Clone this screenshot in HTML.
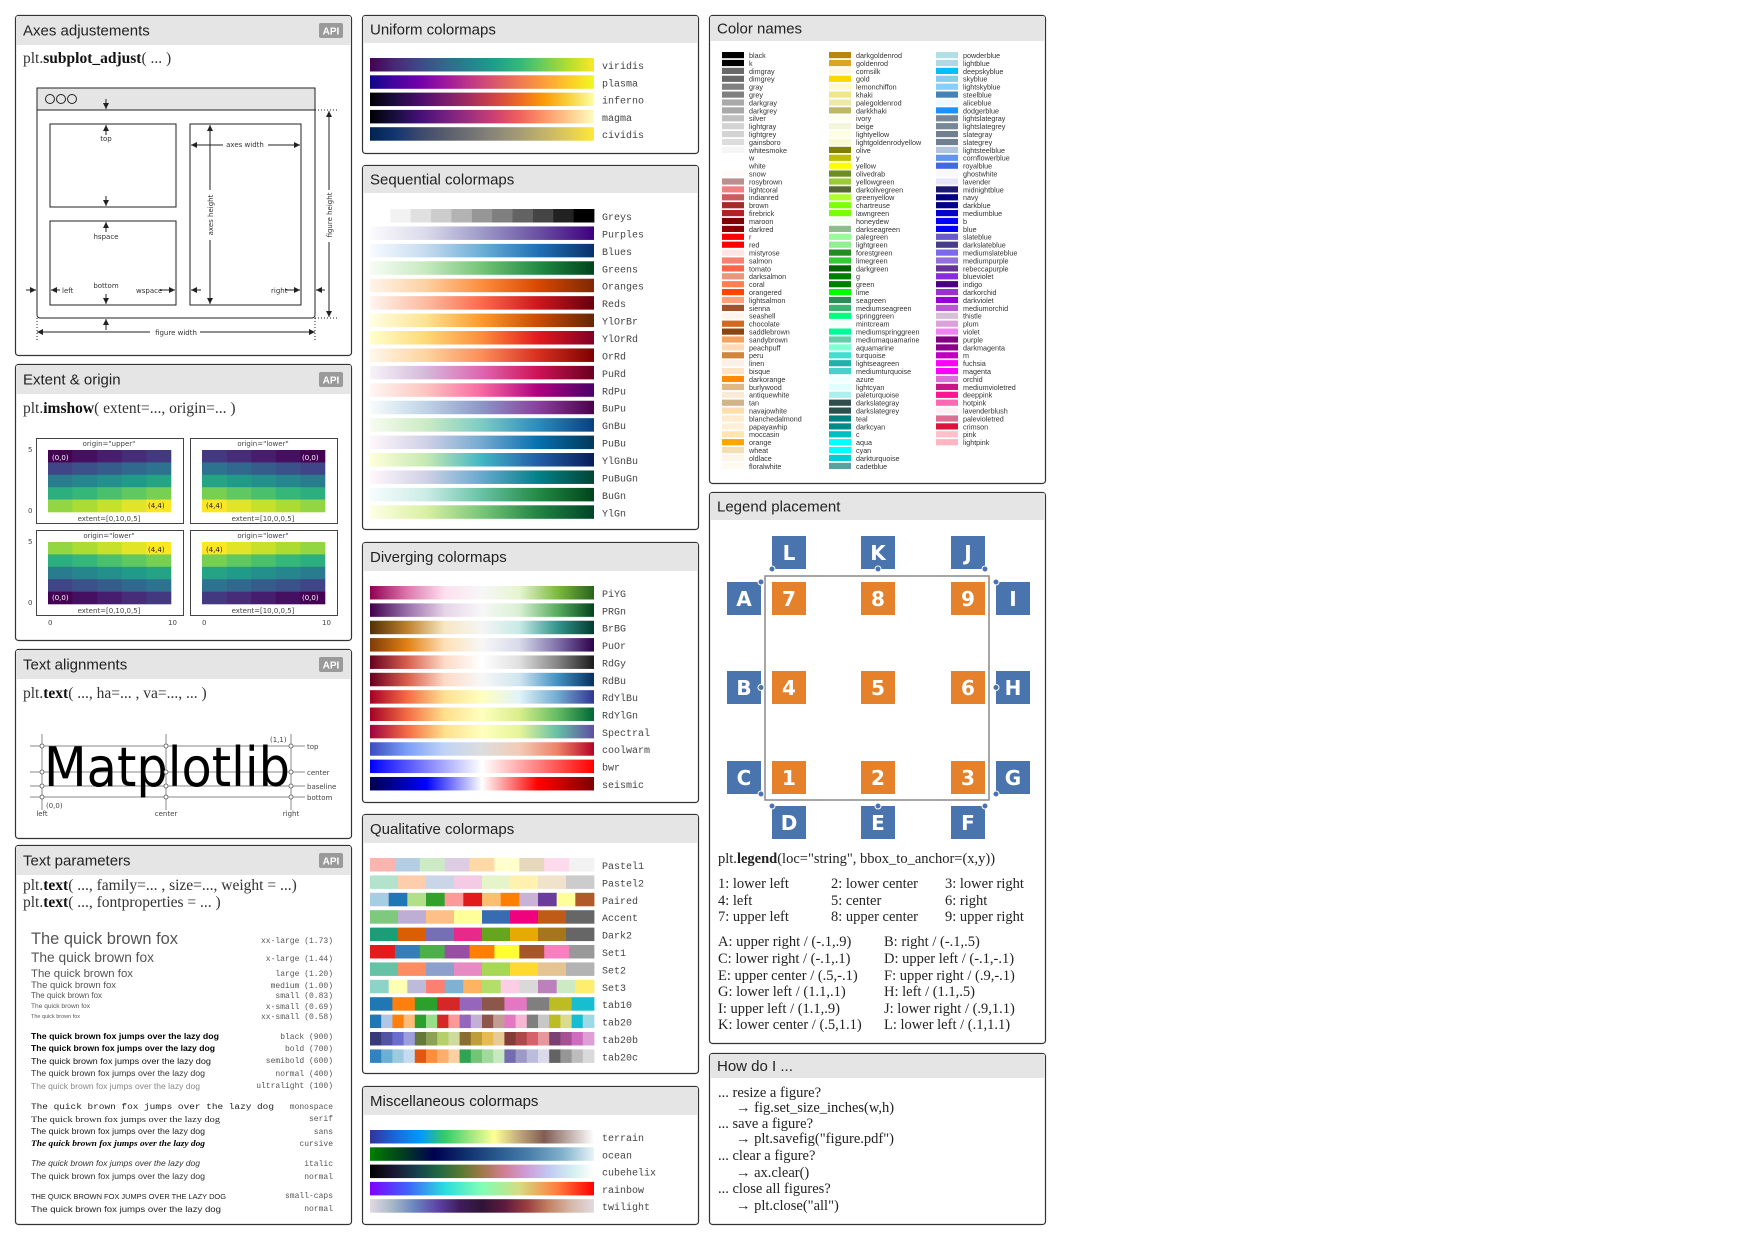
<!DOCTYPE html>
<html><head><meta charset="utf-8"><style>
html,body{margin:0;padding:0;background:#fff;}
svg{display:block;}
.hd{font-family:"Liberation Sans",sans-serif;font-size:15px;fill:#222;}
.code{font-family:"Liberation Serif",serif;font-size:15.5px;fill:#333;}
.mono{font-family:"Liberation Mono",monospace;font-size:10px;fill:#444;}
.sm{font-family:"DejaVu Sans","Liberation Sans",sans-serif;font-size:7px;fill:#444;}
.lg{font-family:"Liberation Serif",serif;font-size:14.5px;fill:#222;}
.sq{font-family:"DejaVu Sans","Liberation Sans",sans-serif;font-size:20px;font-weight:bold;fill:#fff;}
</style></head><body>
<svg id="root" width="1753" height="1240" viewBox="0 0 1753 1240" xmlns="http://www.w3.org/2000/svg">
<defs id="defs">
<marker id="ar" viewBox="0 0 6 6" refX="6" refY="3" markerWidth="6" markerHeight="6" orient="auto-start-reverse"><path d="M0,0 L6,3 L0,6 Z" fill="#222"/></marker>
</defs>
<g id="panels"></g>
<!-- Axes adjustments diagram -->
<g stroke="#222" fill="none" stroke-width="1">
  <rect x="37" y="88" width="278" height="230" rx="3" fill="#fff"/>
  <rect x="37" y="88" width="278" height="22" fill="#e5e5e5"/>
  <line x1="37" y1="110" x2="315" y2="110"/>
  <circle cx="50" cy="99" r="4.5"/><circle cx="61" cy="99" r="4.5"/><circle cx="72" cy="99" r="4.5"/>
  <rect x="50" y="124" width="126" height="83"/>
  <rect x="50" y="221" width="126" height="84"/>
  <rect x="190" y="124" width="111" height="181"/>
  <line x1="106" y1="99" x2="106" y2="109" marker-end="url(#ar)"/><line x1="106" y1="135" x2="106" y2="125" marker-end="url(#ar)"/>
  <line x1="106" y1="196" x2="106" y2="206" marker-end="url(#ar)"/><line x1="106" y1="232" x2="106" y2="222" marker-end="url(#ar)"/>
  <line x1="106" y1="294" x2="106" y2="304" marker-end="url(#ar)"/><line x1="106" y1="330" x2="106" y2="319" marker-end="url(#ar)"/>
  <line x1="210" y1="125" x2="210" y2="304" marker-start="url(#ar)" marker-end="url(#ar)"/>
  <line x1="191" y1="145" x2="300" y2="145" marker-start="url(#ar)" marker-end="url(#ar)"/>
  <line x1="329" y1="111" x2="329" y2="317" marker-start="url(#ar)" marker-end="url(#ar)"/>
  <line x1="37" y1="332" x2="315" y2="332" marker-start="url(#ar)" marker-end="url(#ar)"/>
  <line x1="26" y1="290" x2="36" y2="290" marker-end="url(#ar)"/><line x1="60" y1="290" x2="51" y2="290" marker-end="url(#ar)"/>
  <line x1="160" y1="290" x2="175" y2="290" marker-end="url(#ar)"/><line x1="201" y1="290" x2="191" y2="290" marker-end="url(#ar)"/>
  <line x1="285" y1="290" x2="300" y2="290" marker-end="url(#ar)"/><line x1="325" y1="290" x2="316" y2="290" marker-end="url(#ar)"/>
  <line x1="315" y1="110" x2="338" y2="110" stroke-dasharray="1,2"/><line x1="315" y1="318" x2="338" y2="318" stroke-dasharray="1,2"/>
  <line x1="37" y1="318" x2="37" y2="340" stroke-dasharray="1,2"/><line x1="315" y1="318" x2="315" y2="340" stroke-dasharray="1,2"/>
</g>
<g font-family="DejaVu Sans, Liberation Sans, sans-serif" font-size="7" fill="#333">
  <text x="106" y="141" text-anchor="middle">top</text>
  <text x="106" y="239" text-anchor="middle">hspace</text>
  <text x="62" y="293">left</text><text x="106" y="288" text-anchor="middle">bottom</text>
  <text x="136" y="293">wspace</text><text x="271" y="293">right</text>
  <rect x="223" y="140" width="45" height="10" fill="#fff"/><text x="245" y="147" text-anchor="middle">axes width</text>
  <rect x="150" y="328" width="50" height="10" fill="#fff"/><text x="176" y="335" text-anchor="middle">figure width</text>
  <rect x="205" y="190" width="10" height="50" fill="#fff"/><text transform="translate(213,215) rotate(-90)" text-anchor="middle">axes height</text>
  <rect x="324" y="190" width="10" height="52" fill="#fff"/><text transform="translate(332,215) rotate(-90)" text-anchor="middle">figure height</text>
</g>
<!-- Text alignments -->
<g>
  <g stroke="#888" stroke-width="1">
    <line x1="30" y1="746" x2="305" y2="746"/><line x1="30" y1="772" x2="305" y2="772"/>
    <line x1="30" y1="786" x2="305" y2="786"/><line x1="30" y1="797" x2="305" y2="797"/>
    <line x1="42" y1="734" x2="42" y2="810"/><line x1="166" y1="734" x2="166" y2="810"/><line x1="291" y1="734" x2="291" y2="810"/>
  </g>
  <text x="44" y="786" font-family="DejaVu Sans, Liberation Sans, sans-serif" font-size="54" textLength="246" lengthAdjust="spacingAndGlyphs" fill="#000">Matplotlib</text>
  <g class="sm"><text x="307" y="749" class="sm">top</text><text x="307" y="775" class="sm">center</text><text x="307" y="789" class="sm">baseline</text><text x="307" y="800" class="sm">bottom</text>
  <text x="270" y="742" class="sm">(1,1)</text><text x="46" y="808" class="sm">(0,0)</text>
  <text x="42" y="816" text-anchor="middle" class="sm">left</text><text x="166" y="816" text-anchor="middle" class="sm">center</text><text x="291" y="816" text-anchor="middle" class="sm">right</text></g>
  <g fill="#fff" stroke="#555" stroke-width="0.8">
    <circle cx="42" cy="746" r="2"/><circle cx="166" cy="746" r="2"/><circle cx="291" cy="746" r="2"/>
    <circle cx="42" cy="772" r="2"/><circle cx="166" cy="772" r="2"/><circle cx="291" cy="772" r="2"/>
    <circle cx="42" cy="786" r="2"/><circle cx="166" cy="786" r="2"/><circle cx="291" cy="786" r="2"/>
    <circle cx="42" cy="797" r="2"/><circle cx="166" cy="797" r="2"/><circle cx="291" cy="797" r="2"/>
  </g>
</g>
<!-- Text params -->
<g font-family="Liberation Sans, sans-serif">
  <g fill="#555">
    <text x="31" y="944" font-size="16.5" textLength="147" lengthAdjust="spacingAndGlyphs">The quick brown fox</text>
    <text x="31" y="962" font-size="13.7" textLength="123" lengthAdjust="spacingAndGlyphs">The quick brown fox</text>
    <text x="31" y="977" font-size="11.4" textLength="102" lengthAdjust="spacingAndGlyphs">The quick brown fox</text>
    <text x="31" y="988" font-size="9.5" textLength="85" lengthAdjust="spacingAndGlyphs">The quick brown fox</text>
    <text x="31" y="998" font-size="7.9" textLength="71" lengthAdjust="spacingAndGlyphs">The quick brown fox</text>
    <text x="31" y="1008" font-size="6.6" textLength="59" lengthAdjust="spacingAndGlyphs">The quick brown fox</text>
    <text x="31" y="1018" font-size="5.5" textLength="49" lengthAdjust="spacingAndGlyphs">The quick brown fox</text>
  </g>
  <g font-size="8.6">
    <text x="31" y="1039" font-weight="900" fill="#000" textLength="188" lengthAdjust="spacingAndGlyphs">The quick brown fox jumps over the lazy dog</text>
    <text x="31" y="1051" font-weight="bold" fill="#000" textLength="184" lengthAdjust="spacingAndGlyphs">The quick brown fox jumps over the lazy dog</text>
    <text x="31" y="1064" fill="#111" textLength="180" lengthAdjust="spacingAndGlyphs">The quick brown fox jumps over the lazy dog</text>
    <text x="31" y="1076" fill="#333" textLength="174" lengthAdjust="spacingAndGlyphs">The quick brown fox jumps over the lazy dog</text>
    <text x="31" y="1089" fill="#888" textLength="169" lengthAdjust="spacingAndGlyphs">The quick brown fox jumps over the lazy dog</text>
    <text x="31" y="1109" font-family="Liberation Mono, monospace" fill="#222" textLength="243" lengthAdjust="spacingAndGlyphs">The quick brown fox jumps over the lazy dog</text>
    <text x="31" y="1122" font-family="Liberation Serif, serif" fill="#222" textLength="189" lengthAdjust="spacingAndGlyphs">The quick brown fox jumps over the lazy dog</text>
    <text x="31" y="1134" fill="#222" textLength="174" lengthAdjust="spacingAndGlyphs">The quick brown fox jumps over the lazy dog</text>
    <text x="31" y="1146" font-family="Liberation Serif, serif" font-style="italic" font-weight="bold" fill="#000" textLength="174" lengthAdjust="spacingAndGlyphs">The quick brown fox jumps over the lazy dog</text>
    <text x="31" y="1166" font-style="italic" fill="#333" textLength="169" lengthAdjust="spacingAndGlyphs">The quick brown fox jumps over the lazy dog</text>
    <text x="31" y="1179" fill="#333" textLength="174" lengthAdjust="spacingAndGlyphs">The quick brown fox jumps over the lazy dog</text>
    <text x="31" y="1199" font-size="7" fill="#222" textLength="195" lengthAdjust="spacingAndGlyphs">THE QUICK BROWN FOX JUMPS OVER THE LAZY DOG</text>
    <text x="31" y="1212" fill="#222" textLength="190" lengthAdjust="spacingAndGlyphs">The quick brown fox jumps over the lazy dog</text>
  </g>
  <g font-family="Liberation Mono, monospace" font-size="8" fill="#555" text-anchor="end">
    <text x="333" y="943">xx-large (1.73)</text><text x="333" y="961">x-large (1.44)</text>
    <text x="333" y="976">large (1.20)</text><text x="333" y="988">medium (1.00)</text>
    <text x="333" y="998">small (0.83)</text><text x="333" y="1009">x-small (0.69)</text>
    <text x="333" y="1019">xx-small (0.58)</text>
    <text x="333" y="1039">black (900)</text><text x="333" y="1051">bold (700)</text>
    <text x="333" y="1063">semibold (600)</text><text x="333" y="1076">normal (400)</text>
    <text x="333" y="1088">ultralight (100)</text>
    <text x="333" y="1109">monospace</text><text x="333" y="1121">serif</text>
    <text x="333" y="1134">sans</text><text x="333" y="1146">cursive</text>
    <text x="333" y="1166">italic</text><text x="333" y="1179">normal</text>
    <text x="333" y="1198">small-caps</text><text x="333" y="1211">normal</text>
  </g>
</g>
<!-- How do I -->
<g class="lg">
  <text x="718" y="1097" class="lg">... resize a figure?</text>
  <text x="736" y="1112" class="lg" fill="#444">→ fig.set_size_inches(w,h)</text>
  <text x="718" y="1128" class="lg">... save a figure?</text>
  <text x="736" y="1143" class="lg" fill="#444">→ plt.savefig("figure.pdf")</text>
  <text x="718" y="1160" class="lg">... clear a figure?</text>
  <text x="736" y="1177" class="lg" fill="#444">→ ax.clear()</text>
  <text x="718" y="1193" class="lg">... close all figures?</text>
  <text x="736" y="1210" class="lg" fill="#444">→ plt.close("all")</text>
</g>
<!-- Legend text -->
<g>
  <text x="718" y="863" class="lg">plt.<tspan font-weight="bold">legend</tspan>(loc="string", bbox_to_anchor=(x,y))</text>
  <text x="718" y="888" class="lg">1: lower left</text><text x="831" y="888" class="lg">2: lower center</text><text x="945" y="888" class="lg">3: lower right</text>
  <text x="718" y="905" class="lg">4: left</text><text x="831" y="905" class="lg">5: center</text><text x="945" y="905" class="lg">6: right</text>
  <text x="718" y="921" class="lg">7: upper left</text><text x="831" y="921" class="lg">8: upper center</text><text x="945" y="921" class="lg">9: upper right</text>
  <text x="718" y="946" class="lg">A: upper right / (-.1,.9)</text><text x="884" y="946" class="lg">B: right / (-.1,.5)</text>
  <text x="718" y="963" class="lg">C: lower right / (-.1,.1)</text><text x="884" y="963" class="lg">D: upper left / (-.1,-.1)</text>
  <text x="718" y="980" class="lg">E: upper center / (.5,-.1)</text><text x="884" y="980" class="lg">F: upper right / (.9,-.1)</text>
  <text x="718" y="996" class="lg">G: lower left / (1.1,.1)</text><text x="884" y="996" class="lg">H: left / (1.1,.5)</text>
  <text x="718" y="1013" class="lg">I: upper left / (1.1,.9)</text><text x="884" y="1013" class="lg">J: lower right / (.9,1.1)</text>
  <text x="718" y="1029" class="lg">K: lower center / (.5,1.1)</text><text x="884" y="1029" class="lg">L: lower left / (.1,1.1)</text>
</g>
<rect x="765" y="576" width="224" height="224" fill="none" stroke="#888" stroke-width="1.5"/>
<g id="dyn"></g>
</svg>
<script>
// ---------- data ----------
const panelTitles = ["Axes adjustements","Extent & origin","Text alignments","Text parameters","Uniform colormaps","Sequential colormaps","Diverging colormaps","Qualitative colormaps","Miscellaneous colormaps","Color names","Legend placement","How do I ..."];
const panelBoxes = [[15,15,336,340,30],[15,364,336,276,30],[15,649,336,189,30],[15,845,336,379,30],[362,15,336,138,28],[362,165,336,364,28],[362,542,336,260,29],[362,814,336,259,29],[362,1086,336,138,29],[709,15,336,468,26],[709,492,336,551,28],[709,1053,336,171,25]];
const panelApi = [true,true,true,true,false,false,false,false,false,false,false,false];
const panelCode = [["plt.","subplot_adjust","( ... )",63],["plt.","imshow","( extent=..., origin=... )",413],["plt.","text","( ..., ha=... , va=..., ... )",698],["plt.","text","( ..., family=... , size=..., weight = ...)",890],["plt.","text","( ..., fontproperties = ... )",907]];

const uniformNames = ["viridis","plasma","inferno","magma","cividis"];
const uniformStops = [
["#440154","#482878","#3e4989","#31688e","#26828e","#1f9e89","#35b779","#6ece58","#b5de2b","#fde725"],
["#0d0887","#46039f","#7201a8","#9c179e","#bd3786","#d8576b","#ed7953","#fb9f3a","#fdca26","#f0f921"],
["#000004","#1b0c41","#4a0c6b","#781c6d","#a52c60","#cf4446","#ed6925","#fb9b06","#f7d13d","#fcffa4"],
["#000004","#180f3d","#440f76","#721f81","#9e2f7f","#cd4071","#f1605d","#fd9668","#feca8d","#fcfdbf"],
["#00224e","#123570","#3b496c","#575d6d","#707173","#8a8678","#a59c74","#c3b369","#e1cc55","#fee838"]];
const seqNames = ["Greys","Purples","Blues","Greens","Oranges","Reds","YlOrBr","YlOrRd","OrRd","PuRd","RdPu","BuPu","GnBu","PuBu","YlGnBu","PuBuGn","BuGn","YlGn"];
const seqStops = [
["#ffffff","#f2f2f2","#e0e0e0","#cccccc","#b3b3b3","#969696","#7f7f7f","#636363","#454545","#222222","#000000"],
["#fcfbfd","#dadaeb","#9e9ac8","#6a51a3","#3f007d"],
["#f7fbff","#c6dbef","#6baed6","#2171b5","#08306b"],
["#f7fcf5","#c7e9c0","#74c476","#238b45","#00441b"],
["#fff5eb","#fdd0a2","#fd8d3c","#d94801","#7f2704"],
["#fff5f0","#fcbba1","#fb6a4a","#cb181d","#67000d"],
["#ffffe5","#fee391","#fe9929","#cc4c02","#662506"],
["#ffffcc","#fed976","#fd8d3c","#e31a1c","#800026"],
["#fff7ec","#fdd49e","#fc8d59","#d7301f","#7f0000"],
["#f7f4f9","#d4b9da","#df65b0","#ce1256","#67001f"],
["#fff7f3","#fcc5c0","#f768a1","#ae017e","#49006a"],
["#f7fcfd","#bfd3e6","#8c96c6","#88419d","#4d004b"],
["#f7fcf0","#ccebc5","#7bccc4","#2b8cbe","#084081"],
["#fff7fb","#d0d1e6","#74a9cf","#0570b0","#023858"],
["#ffffd9","#c7e9b4","#41b6c4","#225ea8","#081d58"],
["#fff7fb","#d0d1e6","#67a9cf","#02818a","#014636"],
["#f7fcfd","#ccece6","#66c2a4","#238b45","#00441b"],
["#ffffe5","#d9f0a3","#78c679","#238443","#004529"]];
const divNames = ["PiYG","PRGn","BrBG","PuOr","RdGy","RdBu","RdYlBu","RdYlGn","Spectral","coolwarm","bwr","seismic"];
const divStops = [
["#8e0152","#de77ae","#fde0ef","#f7f7f7","#e6f5d0","#7fbc41","#276419"],
["#40004b","#9970ab","#e7d4e8","#f7f7f7","#d9f0d3","#5aae61","#00441b"],
["#543005","#bf812d","#f6e8c3","#f5f5f5","#c7eae5","#35978f","#003c30"],
["#7f3b08","#e08214","#fee0b6","#f7f7f7","#d8daeb","#8073ac","#2d004b"],
["#67001f","#d6604d","#fddbc7","#ffffff","#e0e0e0","#878787","#1a1a1a"],
["#67001f","#d6604d","#fddbc7","#f7f7f7","#d1e5f0","#4393c3","#053061"],
["#a50026","#f46d43","#fee090","#ffffbf","#e0f3f8","#74add1","#313695"],
["#a50026","#f46d43","#fee08b","#ffffbf","#d9ef8b","#66bd63","#006837"],
["#9e0142","#f46d43","#fee08b","#ffffbf","#e6f598","#66c2a5","#5e4fa2"],
["#3b4cc0","#7b9ff9","#c0d4f5","#dddddd","#f2cbb7","#ee8468","#b40426"],
["#0000ff","#8080ff","#ffffff","#ff8080","#ff0000"],
["#00004c","#0000ff","#ffffff","#ff0000","#7f0000"]];
const qualNames = ["Pastel1","Pastel2","Paired","Accent","Dark2","Set1","Set2","Set3","tab10","tab20","tab20b","tab20c"];
const qualColors = [
["#fbb4ae","#b3cde3","#ccebc5","#decbe4","#fed9a6","#ffffcc","#e5d8bd","#fddaec","#f2f2f2"],
["#b3e2cd","#fdcdac","#cbd5e8","#f4cae4","#e6f5c9","#fff2ae","#f1e2cc","#cccccc"],
["#a6cee3","#1f78b4","#b2df8a","#33a02c","#fb9a99","#e31a1c","#fdbf6f","#ff7f00","#cab2d6","#6a3d9a","#ffff99","#b15928"],
["#7fc97f","#beaed4","#fdc086","#ffff99","#386cb0","#f0027f","#bf5b17","#666666"],
["#1b9e77","#d95f02","#7570b3","#e7298a","#66a61e","#e6ab02","#a6761d","#666666"],
["#e41a1c","#377eb8","#4daf4a","#984ea3","#ff7f00","#ffff33","#a65628","#f781bf","#999999"],
["#66c2a5","#fc8d62","#8da0cb","#e78ac3","#a6d854","#ffd92f","#e5c494","#b3b3b3"],
["#8dd3c7","#ffffb3","#bebada","#fb8072","#80b1d3","#fdb462","#b3de69","#fccde5","#d9d9d9","#bc80bd","#ccebc5","#ffed6f"],
["#1f77b4","#ff7f0e","#2ca02c","#d62728","#9467bd","#8c564b","#e377c2","#7f7f7f","#bcbd22","#17becf"],
["#1f77b4","#aec7e8","#ff7f0e","#ffbb78","#2ca02c","#98df8a","#d62728","#ff9896","#9467bd","#c5b0d5","#8c564b","#c49c94","#e377c2","#f7b6d2","#7f7f7f","#c7c7c7","#bcbd22","#dbdb8d","#17becf","#9edae5"],
["#393b79","#5254a3","#6b6ecf","#9c9ede","#637939","#8ca252","#b5cf6b","#cedb9c","#8c6d31","#bd9e39","#e7ba52","#e7cb94","#843c39","#ad494a","#d6616b","#e7969c","#7b4173","#a55194","#ce6dbd","#de9ed6"],
["#3182bd","#6baed6","#9ecae1","#c6dbef","#e6550d","#fd8d3c","#fdae6b","#fdd0a2","#31a354","#74c476","#a1d99b","#c7e9c0","#756bb1","#9e9ac8","#bcbddc","#dadaeb","#636363","#969696","#bdbdbd","#d9d9d9"]];
const miscNames = ["terrain","ocean","cubehelix","rainbow","twilight"];
const miscStops = [
["#333399","#1a66d9","#0099ff","#33cc66","#99e680","#ffff99","#c0a878","#805c54","#c0adaa","#ffffff"],
["#008000","#004020","#000050","#10306e","#2a5a90","#4a80ac","#80b0cc","#e8f4f8"],
["#000000","#1a1530","#163d4e","#1f6642","#54792f","#a07949","#d07e93","#cf9cda","#c1caf3","#d2eeef","#ffffff"],
["#8000ff","#4062fa","#2adddd","#80ffb4","#d4dd80","#ff7e41","#ff0000"],
["#e2d9e2","#a6b7c8","#6a84bf","#5d44a8","#3f1d5c","#2f1436","#5c1a3e","#9a3e3f","#c38364","#d6b9a9","#e2d9e2"]];

const names1 = ["black","k","dimgray","dimgrey","gray","grey","darkgray","darkgrey","silver","lightgray","lightgrey","gainsboro","whitesmoke","w","white","snow","rosybrown","lightcoral","indianred","brown","firebrick","maroon","darkred","r","red","mistyrose","salmon","tomato","darksalmon","coral","orangered","lightsalmon","sienna","seashell","chocolate","saddlebrown","sandybrown","peachpuff","peru","linen","bisque","darkorange","burlywood","antiquewhite","tan","navajowhite","blanchedalmond","papayawhip","moccasin","orange","wheat","oldlace","floralwhite"];
const names2 = ["darkgoldenrod","goldenrod","cornsilk","gold","lemonchiffon","khaki","palegoldenrod","darkkhaki","ivory","beige","lightyellow","lightgoldenrodyellow","olive","y","yellow","olivedrab","yellowgreen","darkolivegreen","greenyellow","chartreuse","lawngreen","honeydew","darkseagreen","palegreen","lightgreen","forestgreen","limegreen","darkgreen","g","green","lime","seagreen","mediumseagreen","springgreen","mintcream","mediumspringgreen","mediumaquamarine","aquamarine","turquoise","lightseagreen","mediumturquoise","azure","lightcyan","paleturquoise","darkslategray","darkslategrey","teal","darkcyan","c","aqua","cyan","darkturquoise","cadetblue"];
const names3 = ["powderblue","lightblue","deepskyblue","skyblue","lightskyblue","steelblue","aliceblue","dodgerblue","lightslategray","lightslategrey","slategray","slategrey","lightsteelblue","cornflowerblue","royalblue","ghostwhite","lavender","midnightblue","navy","darkblue","mediumblue","b","blue","slateblue","darkslateblue","mediumslateblue","mediumpurple","rebeccapurple","blueviolet","indigo","darkorchid","darkviolet","mediumorchid","thistle","plum","violet","purple","darkmagenta","m","fuchsia","magenta","orchid","mediumvioletred","deeppink","hotpink","lavenderblush","palevioletred","crimson","pink","lightpink"];
const shortColors = {k:"#000000",w:"#ffffff",r:"#ff0000",y:"#bfbf00",g:"#008000",c:"#00bfbf",b:"#0000ff",m:"#bf00bf"};

const legendOrange = ["7","8","9","4","5","6","1","2","3"];
const legendBlue = ["L","K","J","A","B","C","I","H","G","D","E","F"];
const legendBlueAnchor = [[0,0],[0.5,0],[1,0],[1,1],[1,0.5],[1,0],[0,1],[0,0.5],[0,0],[0,1],[0.5,1],[1,1]];

// ---------- helpers ----------
const NS = "http://www.w3.org/2000/svg";
const dyn = document.getElementById("dyn");
const defs = document.getElementById("defs");
function mk(tag, attrs, parent){const e=document.createElementNS(NS,tag);for(const k in attrs)e.setAttribute(k,attrs[k]);(parent||dyn).appendChild(e);return e;}
function hex2rgb(h){return [parseInt(h.slice(1,3),16),parseInt(h.slice(3,5),16),parseInt(h.slice(5,7),16)];}
function cmapAt(stops,t){t=Math.max(0,Math.min(1,t));const n=stops.length-1;const p=t*n;const i=Math.min(Math.floor(p),n-1);const f=p-i;const a=hex2rgb(stops[i]),b=hex2rgb(stops[i+1]);return "rgb("+a.map((v,k)=>Math.round(v+(b[k]-v)*f)).join(",")+")";}

// ---------- panels ----------
panelBoxes.forEach((b,i)=>{
  const g=mk("g",{},document.getElementById("panels"));
  
  
  mk("rect",{x:b[0]+0.5,y:b[1]+0.5,width:b[2],height:b[3],rx:3,fill:"#fff",stroke:"#333","stroke-width":1.2},g);
  mk("path",{d:`M${b[0]+1},${b[1]+b[4]} V${b[1]+3} Q${b[0]+1},${b[1]+1} ${b[0]+3},${b[1]+1} H${b[0]+b[2]-2} Q${b[0]+b[2]},${b[1]+1} ${b[0]+b[2]},${b[1]+3} V${b[1]+b[4]} Z`,fill:"#e5e5e5"},g);
  const t=mk("text",{x:b[0]+8,y:b[1]+b[4]/2+5.5,"class":"hd"},g);
  t.textContent=panelTitles[i];
  
  
  if(panelApi[i]){
    const r=mk("rect",{x:b[0]+304,y:b[1]+8,width:24,height:15,rx:2,fill:"#9a9a9a"},g);
    
    
    const at=mk("text",{x:b[0]+316,y:b[1]+19.5,"text-anchor":"middle","font-family":"Liberation Sans, sans-serif","font-size":"10","font-weight":"bold",fill:"#fff"},g);
    at.textContent="API";
    
    
  }
});
panelCode.forEach(c=>{
  const t=mk("text",{x:23,y:c[3],"class":"code"});
  
  
  const s1=mk("tspan",{},t); s1.textContent=c[0];
  const s2=mk("tspan",{"font-weight":"bold",fill:"#111"},t); s2.textContent=c[1];
  const s3=mk("tspan",{},t); s3.textContent=c[2];
});

// ---------- colormaps ----------
const barX0=370, barX1=594, labelX=602;
let gid=0;
function gradBar(stops,y,name){
  const id="g"+(gid++);
  const lg=mk("linearGradient",{id:id,x1:0,x2:1,y1:0,y2:0},defs);
  stops.forEach((c,i)=>{mk("stop",{offset:i/(stops.length-1),"stop-color":c},lg);});
  const r=mk("rect",{x:barX0,y:y,width:barX1-barX0,height:13.5,fill:"url(#"+id+")"});
  
  
}
function stepBar(colors,y,name){
  const w=(barX1-barX0)/colors.length;
  const g=mk("g",{});
  
  
  colors.forEach((c,i)=>{mk("rect",{x:barX0+i*w,y:y,width:w+0.4,height:13.5,fill:c},g);});
}
function label(txt,y){
  const t=mk("text",{x:labelX,y:y+11,"class":"mono"});
  t.textContent=txt;
  
  
}
uniformNames.forEach((n,i)=>{const y=58+i*17.3;gradBar(uniformStops[i],y,n);label(n,y);});
seqNames.forEach((n,i)=>{const y=209+i*17.43;if(n==="Greys")stepBar(seqStops[i],y,n);else gradBar(seqStops[i],y,n);label(n,y);});
divNames.forEach((n,i)=>{const y=586+i*17.36;gradBar(divStops[i],y,n);label(n,y);});
qualNames.forEach((n,i)=>{const y=858+i*17.4;stepBar(qualColors[i],y,n);label(n,y);});
miscNames.forEach((n,i)=>{const y=1130+i*17.3;gradBar(miscStops[i],y,n);label(n,y);});

// ---------- color names ----------
[names1,names2,names3].forEach((list,ci)=>{
  const sx=722+ci*107;
  list.forEach((nm,i)=>{
    const y=52+i*7.9;
    const sw=mk("rect",{x:sx,y:y,width:22,height:6.2,fill:shortColors[nm]||nm});
    
    
    const t=mk("text",{x:sx+27,y:y+6,"font-family":"Liberation Sans, sans-serif","font-size":"7.2",fill:"#333"});
    t.textContent=nm;
    
    
  });
});

// ---------- extent & origin ----------
const viridis=uniformStops[0];
const extentBoxes=[[36,438,"origin=\"upper\"","extent=[0,10,0,5]",false,false],[190,438,"origin=\"lower\"","extent=[10,0,0,5]",true,false],[36,530,"origin=\"lower\"","extent=[0,10,0,5]",false,true],[190,530,"origin=\"lower\"","extent=[10,0,0,5]",true,true]];
extentBoxes.forEach((bx,k)=>{
  const g=mk("g",{});
  
  
  mk("rect",{x:bx[0]+0.5,y:bx[1]+0.5,width:147,height:85,fill:"#fff",stroke:"#444","stroke-width":1},g);
  const ix=bx[0]+12, iy=bx[1]+12, cw=123/5, ch=62/5;
  for(let r=0;r<5;r++)for(let c=0;c<5;c++){
    let row=bx[5]?4-r:r, col=bx[4]?4-c:c;
    const v=row*5+col;
    mk("rect",{x:ix+c*cw,y:iy+r*ch,width:cw+0.3,height:ch+0.3,fill:cmapAt(viridis,v/24)},g);
  }
  const t1=mk("text",{x:bx[0]+73,y:bx[1]+8,"text-anchor":"middle","class":"sm"},g);t1.textContent=bx[2];
  const t2=mk("text",{x:bx[0]+73,y:bx[1]+83,"text-anchor":"middle","class":"sm"},g);t2.textContent=bx[3];
  const zx=bx[4]?ix+100:ix+4, fx=bx[4]?ix+4:ix+100;
  const zy=bx[5]?iy+58:iy+10, fy=bx[5]?iy+10:iy+58;
  const a=mk("text",{x:zx,y:zy,"class":"sm"},g);a.textContent="(0,0)";a.setAttribute("style","fill:#fff");
  const b=mk("text",{x:fx,y:fy,"class":"sm"},g);b.textContent="(4,4)";b.setAttribute("style","fill:#222");
});
[[28,452,"5"],[28,513,"0"],[28,544,"5"],[28,605,"0"],[48,625,"0"],[168,625,"10"],[202,625,"0"],[322,625,"10"]].forEach(t=>{
  const e=mk("text",{x:t[0],y:t[1],"class":"sm","font-size":"6"});e.textContent=t[2];
  
  
});

// ---------- legend placement ----------
const colX=[772,861,951], rowY=[582,671,761];
const SW=34, SH=33;
legendOrange.forEach((n,i)=>{
  const x=colX[i%3], y=rowY[Math.floor(i/3)];
  const r=mk("rect",{x:x,y:y,width:SW,height:SH,fill:"#e5802b"});
  
  
  const t=mk("text",{x:x+SW/2,y:y+24,"text-anchor":"middle","class":"sq"});t.textContent=n;
});
const bluePos=[[772,536],[861,536],[951,536],[727,582],[727,671],[727,761],[996,582],[996,671],[996,761],[772,806],[861,806],[951,806]];
legendBlue.forEach((n,i)=>{
  const p=bluePos[i];
  const r=mk("rect",{x:p[0],y:p[1],width:SW,height:SH,fill:"#4a74ae"});
  
  
  const t=mk("text",{x:p[0]+SW/2,y:p[1]+24,"text-anchor":"middle","class":"sq"});t.textContent=n;
  const a=legendBlueAnchor[i];
  const d=mk("circle",{cx:p[0]+a[0]*SW,cy:p[1]+(1-a[1])*SH,r:3,fill:"#4a74ae",stroke:"#fff","stroke-width":1});
  
  
});
</script>
</body></html>
